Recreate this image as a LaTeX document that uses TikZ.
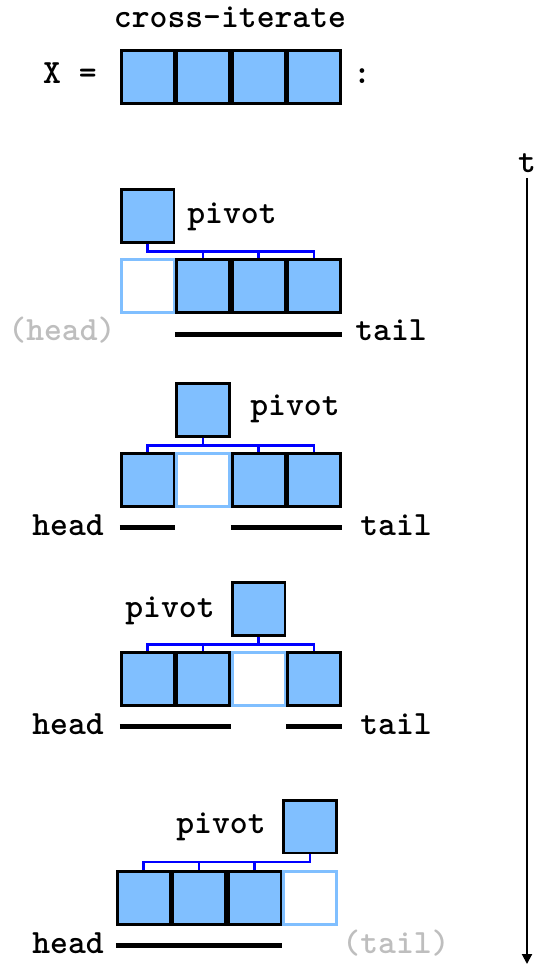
\documentclass[tikz,border=0pt]{standalone}
\usepackage{fontspec}
\usetikzlibrary{arrows.meta}
\definecolor{boxblue}{RGB}{128,191,255}
\definecolor{linkblue}{RGB}{0,0,255}
\definecolor{fadedgray}{RGB}{190,190,190}
\begin{document}
\begin{tikzpicture}[x=0.75pt,y=-0.75pt,
  box/.style={draw=black, fill=boxblue, line width=1.9pt, minimum size=39.4pt, inner sep=0pt},
  hole/.style={box, draw=boxblue, fill=white},
  link/.style={draw=linkblue, line width=1.8pt},
  bar/.style={line width=3.75pt},
  lbl/.style={font=\ttfamily\bfseries\fontsize{25.5}{30}\selectfont, inner sep=0pt, anchor=base},
  faded/.style={lbl, text=fadedgray},
  arr/.style={line width=1.5pt, -{Triangle[length=7.5pt,width=7.5pt]}}]
\useasboundingbox (0,0) rectangle (541,965);

% title row
\node[lbl] (title) at (230,27) {cross-iterate};
\node[lbl] (xeq) at (70,83) {X =};
\node[box] (r01) at (147.5,77) {};
\node[box] (r02) at (203,77) {};
\node[box] (r03) at (258.5,77) {};
\node[box] (r04) at (314,77) {};
\node[lbl] (colon) at (362,83) {:};

% time axis
\node[lbl] (t) at (527,172) {t};
\coordinate (tend) at (527,964);
\draw[arr, shorten <=4pt] (t.south) -- (tend);

% step 1
\node[box] (p1) at (147.5,216) {};
\node[lbl] (pv1) at (232,223) {pivot};
\node[hole] (r11) at (147.5,286) {};
\node[box] (r12) at (203,286) {};
\node[box] (r13) at (258.5,286) {};
\node[box] (r14) at (314,286) {};
\draw[link] (p1.south) -- ++(0,8) -| (r12.north);
\draw[link] (p1.south) -- ++(0,8) -| (r13.north);
\draw[link] (p1.south) -- ++(0,8) -| (r14.north);
\coordinate (y1) at (0,334);
\draw[bar] (r12.south west |- y1) -- (r14.south east |- y1);
\node[faded] (h1) at (62,340) {(head)};
\node[lbl] (tl1) at (391,340) {tail};

% step 2
\node[box] (p2) at (203,410) {};
\node[lbl] (pv2) at (295,415) {pivot};
\node[box] (r21) at (147.5,480) {};
\node[hole] (r22) at (203,480) {};
\node[box] (r23) at (258.5,480) {};
\node[box] (r24) at (314,480) {};
\draw[link] (p2.south) -- ++(0,8) -| (r21.north);
\draw[link] (p2.south) -- ++(0,8) -| (r23.north);
\draw[link] (p2.south) -- ++(0,8) -| (r24.north);
\coordinate (y2) at (0,527);
\draw[bar] (r21.south west |- y2) -- (r21.south east |- y2);
\draw[bar] (r23.south west |- y2) -- (r24.south east |- y2);
\node[lbl] (h2) at (68,535) {head};
\node[lbl] (tl2) at (396,535) {tail};

% step 3
\node[box] (p3) at (258.5,609) {};
\node[lbl] (pv3) at (170,617) {pivot};
\node[box] (r31) at (147.5,679) {};
\node[box] (r32) at (203,679) {};
\node[hole] (r33) at (258.5,679) {};
\node[box] (r34) at (314,679) {};
\draw[link] (p3.south) -- ++(0,8) -| (r31.north);
\draw[link] (p3.south) -- ++(0,8) -| (r32.north);
\draw[link] (p3.south) -- ++(0,8) -| (r34.north);
\coordinate (y3) at (0,726);
\draw[bar] (r31.south west |- y3) -- (r32.south east |- y3);
\draw[bar] (r34.south west |- y3) -- (r34.south east |- y3);
\node[lbl] (h3) at (68,734) {head};
\node[lbl] (tl3) at (396,734) {tail};

% step 4
\node[box] (p4) at (310,826.5) {};
\node[lbl] (pv4) at (221,833) {pivot};
\node[box] (r41) at (143.5,898) {};
\node[box] (r42) at (199,898) {};
\node[box] (r43) at (254.5,898) {};
\node[hole] (r44) at (310,898) {};
\draw[link] (p4.south) -- ++(0,8) -| (r41.north);
\draw[link] (p4.south) -- ++(0,8) -| (r42.north);
\draw[link] (p4.south) -- ++(0,8) -| (r43.north);
\coordinate (y4) at (0,945);
\draw[bar] (r41.south west |- y4) -- (r43.south east |- y4);
\node[lbl] (h4) at (68,953) {head};
\node[faded] (tl4) at (396,953) {(tail)};
\end{tikzpicture}
\end{document}
